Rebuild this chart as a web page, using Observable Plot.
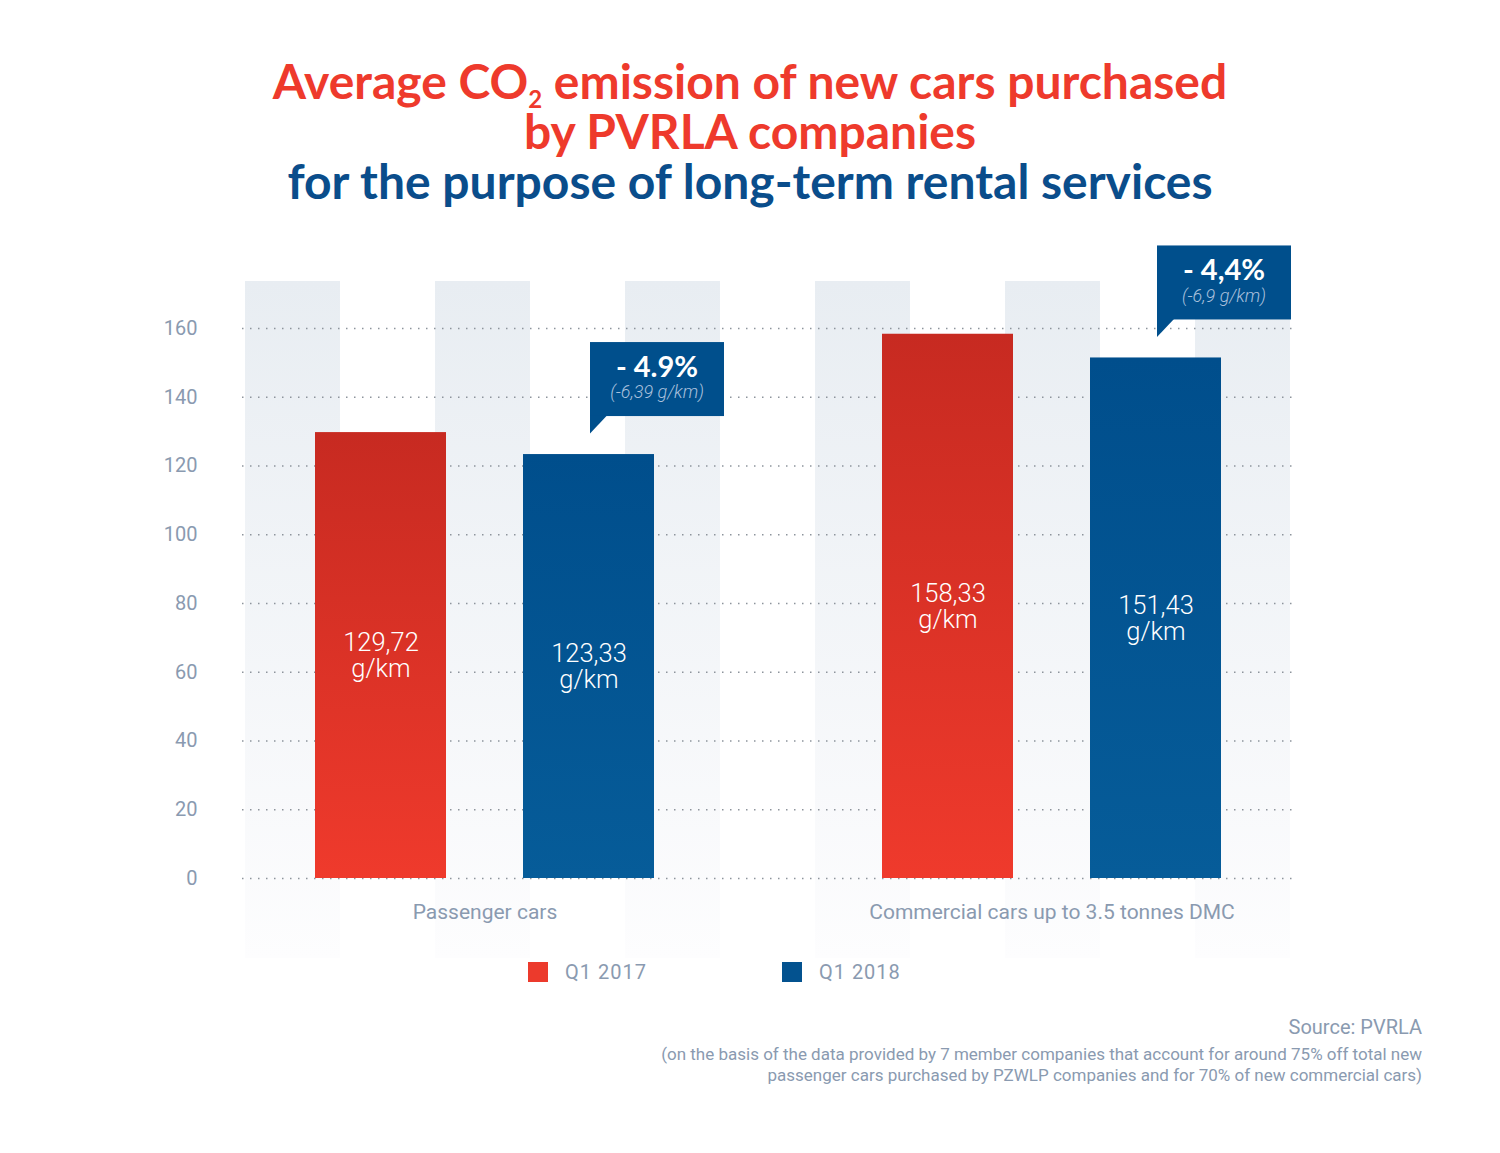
<!DOCTYPE html>
<html>
<head>
<meta charset="utf-8">
<script src="https://cdn.jsdelivr.net/npm/d3@7"></script>
<script src="https://cdn.jsdelivr.net/npm/@observablehq/plot@0.6"></script>
<style>
  body { margin: 0; background: #fff; }
  #page { position: relative; width: 1500px; height: 1153px; overflow: hidden; background: #fff; font-family: Roboto, sans-serif; }
  #title { position: absolute; left: 0; top: 56px; width: 1500px; text-align: center; font-family: Lato, sans-serif; font-weight: 700; font-size: 48px; line-height: 50px; }
  #title .red { color: #ee3a2c; }
  #title .blue { color: #0a4d8b; }
  #title .sub { font-size: 50%; position: relative; top: 0.36em; vertical-align: baseline; line-height: 0; }
  #chart { position: absolute; left: 0; top: 240px; width: 1500px; height: 740px; }
  #chart svg { position: absolute; left: 0; top: 0; }
  #legend { position: absolute; left: 528px; top: 955px; }
  #legend .lg-swatches { font-family: Roboto, sans-serif; font-size: 20px; color: #8a9ab0; letter-spacing: 1px; margin: 0; }
  #legend .lg-swatch { margin-right: 135px; }
  #legend .lg-swatch > svg { margin-right: 17px; }
  #source { position: absolute; right: 78px; top: 1014px; text-align: right; font-family: Roboto, sans-serif; font-size: 20px; line-height: 26px; color: #8a9ab0; }
  #note { position: absolute; right: 78px; top: 1044px; text-align: right; font-family: Roboto, sans-serif; font-size: 17px; line-height: 21px; color: #8a9ab0; }
</style>
</head>
<body>
<div id="page">
  <div id="title">
    <div class="red">Average CO<span class="sub">2</span> emission of new cars purchased</div>
    <div class="red">by PVRLA companies</div>
    <div class="blue">for the purpose of long-term rental services</div>
  </div>
  <div id="chart"></div>
  <div id="legend"></div>
  <div id="source">Source: PVRLA</div>
  <div id="note">(on the basis of the data provided by 7 member companies that account for around 75% off total new<br>passenger cars purchased by PZWLP companies and for 70% of new commercial cars)</div>
</div>
<script>
// ---- Data ----
const categories = ["Passenger cars", "Commercial cars up to 3.5 tonnes DMC"];
const series = ["Q1 2017", "Q1 2018"];
const values2017 = [129.72, 158.33];
const values2018 = [123.33, 151.43];
const changePct = ["- 4.9%", "- 4,4%"];
const changeAbs = ["(-6,39 g/km)", "(-6,9 g/km)"];
const yTicks = [0, 20, 40, 60, 80, 100, 120, 140, 160];
const seriesColors = ["#ec3a2c", "#03528f"];

const rows = categories.flatMap((c, i) => [
  {category: c, series: series[0], value: values2017[i]},
  {category: c, series: series[1], value: values2018[i]}
]);
const callouts = categories.map((c, i) => ({
  category: c, series: series[1], value: values2018[i], pct: changePct[i], abs: changeAbs[i]
}));
const fmt = v => d3.format(".2f")(v).replace(".", ",");

// ---- layout constants ----
const W = 1500, H = 740;
const yRange = [638, 88];
const axisColor = "#8a9ab0";
const calloutFill = "#004f8c";

function addGradient(svg, id, top, bottom) {
  let defs = d3.select(svg).select("defs.custom");
  if (defs.empty()) defs = d3.select(svg).insert("defs", ":first-child").attr("class", "custom");
  const g = defs.append("linearGradient").attr("id", id).attr("x1", 0).attr("y1", 0).attr("x2", 0).attr("y2", 1);
  g.append("stop").attr("offset", "0%").attr("stop-color", top);
  g.append("stop").attr("offset", "100%").attr("stop-color", bottom);
}

// ---- Background layer: stripes, grid, y axis ----
const slots = d3.range(11);
const stripeSlots = slots.filter(i => i % 2 === 0);
const back = Plot.plot({
  width: W, height: H,
  marginTop: 41, marginBottom: 22, marginLeft: 242, marginRight: 208,
  style: {background: "transparent", fontFamily: "Roboto, sans-serif", overflow: "visible"},
  x: {type: "band", domain: slots, padding: 0, axis: null},
  y: {domain: [0, 160], range: yRange, axis: null},
  marks: [
    Plot.cell(stripeSlots, {x: d => d, fill: "url(#stripeGrad)", inset: 0}),
    Plot.gridY(yTicks, {stroke: "#8d949c", strokeOpacity: 1, strokeWidth: 1.5, strokeDasharray: "1.5,6.5"}),
    Plot.axisY(yTicks, {anchor: "left", tickSize: 0, tickPadding: 45, fontSize: 20, fill: axisColor, label: null})
  ]
});
addGradient(back, "stripeGrad", "#e8edf2", "#fdfdfe");

// ---- Foreground layer: bars, labels, callouts ----
const front = Plot.plot({
  width: W, height: H,
  marginTop: 41, marginBottom: 22, marginLeft: 200, marginRight: 165,
  style: {background: "transparent", fontFamily: "Roboto, sans-serif", overflow: "visible"},
  fx: {domain: categories, padding: 0},
  x: {domain: series, range: [313, 654], paddingInner: 0.368, paddingOuter: 0, axis: null},
  y: {domain: [0, 160], range: yRange, axis: null},
  color: {domain: series, range: ["url(#barRed)", "url(#barBlue)"]},
  marks: [
    Plot.barY(rows, {fx: "category", x: "series", y: "value", fill: "series"}),
    Plot.text(rows, {
      fx: "category", x: "series", y: d => d.value / 2,
      text: d => fmt(d.value) + "\ng/km",
      fill: "white", fontSize: 25.5, fontWeight: 300, lineHeight: 1.03,
      fontFamily: "Roboto Light, Roboto, sans-serif"
    }),
    Plot.barY(callouts, {
      fx: "category", x: "series", y1: "value", y2: "value",
      dx: 67, insetTop: -112, insetBottom: 38, insetRight: -3, fill: calloutFill
    }),
    Plot.dot(callouts, {
      fx: "category", x: "series", y: "value", dy: -21, dx: 1, r: 17,
      symbol: {draw(ctx, size) { const s = Math.sqrt(size / Math.PI); ctx.moveTo(0, 0); ctx.lineTo(0, -s - 1); ctx.lineTo(s, -s - 1); ctx.closePath(); }},
      fill: calloutFill, stroke: "none"
    }),
    Plot.text(callouts, {
      fx: "category", x: "series", y: "value", text: "pct",
      dx: 68, dy: -87, fill: "white", fontSize: 29, fontWeight: 700, fontFamily: "Lato, sans-serif"
    }),
    Plot.text(callouts, {
      fx: "category", x: "series", y: "value", text: "abs",
      dx: 68, dy: -62, fill: "#a9c0dc", fontSize: 18, fontStyle: "italic", fontWeight: 300
    }),
    Plot.axisFx({anchor: "bottom", tickSize: 0, dy: -63, fontSize: 21, fill: axisColor, label: null})
  ]
});
addGradient(front, "barRed", "#c72a21", "#ef3a2c");
addGradient(front, "barBlue", "#004e8c", "#065c99");

const chart = document.getElementById("chart");
chart.appendChild(back);
chart.appendChild(front);

// ---- Legend ----
const legend = Plot.legend({
  color: {type: "ordinal", domain: series, range: seriesColors},
  swatchSize: 20, className: "lg"
});
document.getElementById("legend").appendChild(legend);
</script>
</body>
</html>
